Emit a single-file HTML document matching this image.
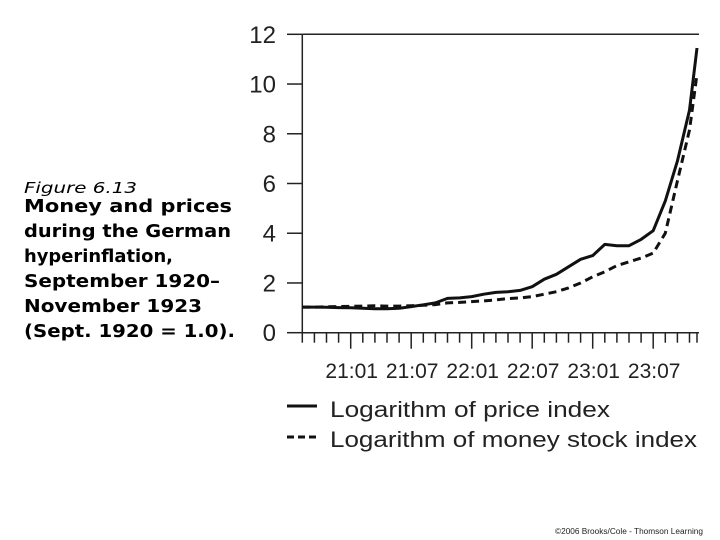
<!DOCTYPE html>
<html><head><meta charset="utf-8"><style>
html,body{margin:0;padding:0;background:#fff;}
svg{display:block;}
</style></head><body>
<svg id="chart" width="720" height="540" xmlns="http://www.w3.org/2000/svg" font-family="Liberation Sans, sans-serif">
<g>
<text x="24" y="193" font-family="DejaVu Sans, sans-serif" font-style="italic" font-size="15" textLength="113" lengthAdjust="spacingAndGlyphs">Figure 6.13</text>
<g font-family="DejaVu Sans, sans-serif" font-weight="bold" font-size="18">
<text x="24" y="212" textLength="208" lengthAdjust="spacingAndGlyphs">Money and prices</text>
<text x="24" y="237" textLength="207" lengthAdjust="spacingAndGlyphs">during the German</text>
<text x="24" y="262" textLength="149" lengthAdjust="spacingAndGlyphs">hyperinflation,</text>
<text x="24" y="287" textLength="196" lengthAdjust="spacingAndGlyphs">September 1920–</text>
<text x="24" y="312" textLength="178" lengthAdjust="spacingAndGlyphs">November 1923</text>
<text x="24" y="337" textLength="211" lengthAdjust="spacingAndGlyphs">(Sept. 1920 = 1.0).</text>
</g>
</g>
<g id="axes"></g>
<g id="series"></g>
<g>
<g>
<line x1="287" y1="406" x2="317" y2="406" stroke="#111" stroke-width="3"/>
<text x="330" y="417" font-size="22.5" fill="#222" textLength="280" lengthAdjust="spacingAndGlyphs">Logarithm of price index</text>
</g>
<g>
<line x1="287" y1="437" x2="317" y2="437" stroke="#111" stroke-width="3" stroke-dasharray="7,4"/>
<text x="330" y="447" font-size="22.5" fill="#222" textLength="367" lengthAdjust="spacingAndGlyphs">Logarithm of money stock index</text>
</g>
</g>
<text x="555" y="534" font-size="8" fill="#222" textLength="148" lengthAdjust="spacingAndGlyphs">©2006 Brooks/Cole - Thomson Learning</text>
</svg>
<script>
const priceIndexLog = [1.03,1.03,1.02,1.01,1.0,0.98,0.96,0.96,0.98,1.05,1.12,1.2,1.38,1.4,1.45,1.55,1.62,1.65,1.7,1.85,2.15,2.35,2.65,2.95,3.1,3.55,3.5,3.5,3.75,4.1,5.3,6.9,8.95,11.45];
const moneyIndexLog = [1.03,1.03,1.04,1.05,1.06,1.07,1.08,1.07,1.07,1.08,1.1,1.13,1.2,1.22,1.25,1.28,1.32,1.37,1.4,1.45,1.55,1.65,1.8,2.0,2.25,2.45,2.7,2.85,3.0,3.2,4.0,6.1,8.15,10.4];
const yTicks = [0,2,4,6,8,10,12];
const xLabels = ["21:01","21:07","22:01","22:07","23:01","23:07"];
const xLabelIdx = [4,9,14,19,24,29];

const NS = "http://www.w3.org/2000/svg";
const X0 = 302.3, DX = 12.1, Y0 = 332.7, YTOP = 34.3, YMAX = 12;
const sx = i => X0 + i * DX;
const sy = v => Y0 - (v / YMAX) * (Y0 - YTOP);
function mk(tag, attrs, parent){const e=document.createElementNS(NS,tag);for(const k in attrs)e.setAttribute(k,attrs[k]);parent.appendChild(e);return e;}
const axes = document.getElementById('axes');
const series = document.getElementById('series');
const right = 699;
let e;
e = mk('line',{x1:X0,y1:YTOP,x2:X0,y2:Y0,stroke:'#222','stroke-width':1.5},axes);


e = mk('line',{x1:X0,y1:Y0,x2:right,y2:Y0,stroke:'#222','stroke-width':1.5},axes);


e = mk('line',{x1:X0,y1:YTOP,x2:right,y2:YTOP,stroke:'#222','stroke-width':1.5},axes);


yTicks.forEach(v=>{
  const y=sy(v);
  const t=mk('line',{x1:287,y1:y,x2:X0,y2:y,stroke:'#222','stroke-width':1.5},axes);
  
  
  const l=mk('text',{x:276,y:y+8.5,'text-anchor':'end','font-size':24,fill:'#222'},axes);
  l.textContent=v;
  
  
});
for(let i=0;i<priceIndexLog.length;i++){
  const x=Math.min(sx(i),697);
  const long=xLabelIdx.indexOf(i)>=0;
  const t=mk('line',{x1:x,y1:Y0,x2:x,y2:Y0+(long?16:10),stroke:'#222','stroke-width':1.5},axes);
  
  
}
xLabels.forEach((s,k)=>{
  const l=mk('text',{x:sx(xLabelIdx[k])+1,y:378,'text-anchor':'middle','font-size':21,fill:'#222'},axes);
  l.textContent=s;
  
  
});
const pts = arr => arr.map((v,i)=>Math.min(sx(i),697).toFixed(1)+','+sy(v).toFixed(1)).join(' ');
e = mk('polyline',{points:pts(moneyIndexLog),fill:'none',stroke:'#111','stroke-width':3,'stroke-dasharray':'8,5','stroke-linejoin':'round'},series);


e = mk('polyline',{points:pts(priceIndexLog),fill:'none',stroke:'#111','stroke-width':3,'stroke-linejoin':'round'},series);


</script>
</body></html>
